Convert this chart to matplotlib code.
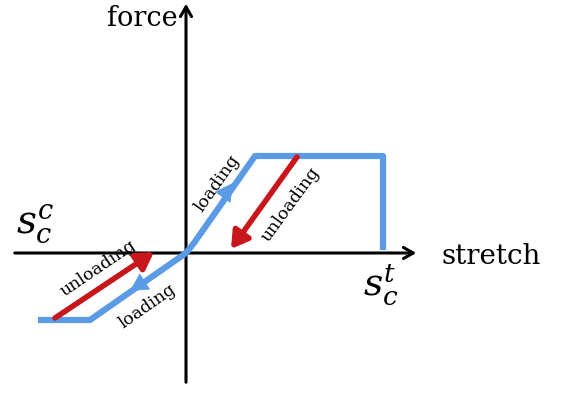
import matplotlib
matplotlib.use("Agg")
import matplotlib.pyplot as plt

plt.rcParams['mathtext.fontset'] = 'dejavuserif'

# Schematic data (force-stretch law), in drawing units (origin at axes cross)
curve_x = [-148, -96, -10, 0, 8, 69, 197, 197]
curve_y = [-67, -67, -7, 0, 10, 97, 97, 3]

red_arrows = [((111, 96), (45, 4)), ((-131, -65), (-32, 1))]
blue_heads = [((34, 52), (47, 70)), ((-42, -29), (-56, -38))]

labels = [
    ("loading", (31, 70), 55),
    ("unloading", (104, 48), 54),
    ("unloading", (-88, -15), 34),
    ("loading", (-39, -53), 35),
]

BLUE = "#5B9BE5"
RED = "#C8161D"

fig = plt.figure(figsize=(5.63, 3.93), dpi=100)
ax = fig.add_axes([0, 0, 1, 1])
ax.set_xlim(-186, 377)
ax.set_ylim(-140, 253)
ax.axis("off")

# axes with arrows
ax.annotate("", xy=(233, 0), xytext=(-174, 0),
            arrowprops=dict(arrowstyle="->,head_length=0.7,head_width=0.4", lw=2.2, color="black"))
ax.annotate("", xy=(0, 252), xytext=(0, -132),
            arrowprops=dict(arrowstyle="->,head_length=0.7,head_width=0.4", lw=2.2, color="black"))

ax.plot(curve_x, curve_y, color=BLUE, lw=4.5, solid_joinstyle="round", solid_capstyle="butt", zorder=3)

for (s, e) in blue_heads:
    ax.annotate("", xy=e, xytext=s,
                arrowprops=dict(arrowstyle="-|>,head_length=1.2,head_width=0.65", lw=0.5,
                                color=BLUE, shrinkA=0, shrinkB=0), zorder=4)

for (s, e) in red_arrows:
    ax.annotate("", xy=e, xytext=s,
                arrowprops=dict(arrowstyle="-|>,head_length=1.0,head_width=0.6", lw=4,
                                color=RED, shrinkA=0, shrinkB=0), zorder=4)

for txt, pos, rot in labels:
    ax.text(pos[0], pos[1], txt, rotation=rot, rotation_mode="anchor",
            ha="center", va="center", fontsize=12.5, family="DejaVu Serif")

ax.text(-44, 235, "force", ha="center", va="center", fontsize=19.5, family="DejaVu Serif")
ax.text(305, -4, "stretch", ha="center", va="center", fontsize=20, family="DejaVu Serif")
ax.text(-151, 29, r"$s_c^c$", ha="center", va="center", fontsize=28)
ax.text(195, -32, r"$s_c^t$", ha="center", va="center", fontsize=27)

fig.savefig("out.png", dpi=100)
